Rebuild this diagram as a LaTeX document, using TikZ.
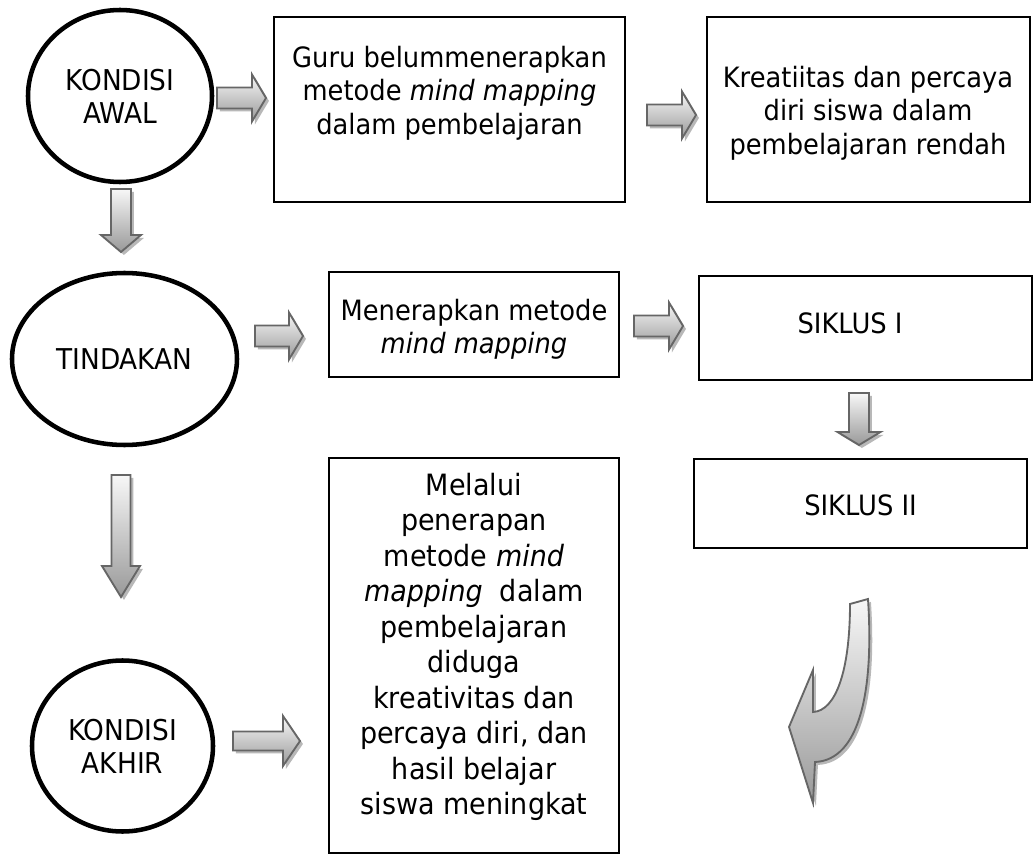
\documentclass[tikz,border=0pt]{standalone}
\usepackage{fontspec}
\setmainfont{DejaVu Sans}[FakeStretch=0.92]
\usetikzlibrary{shapes.geometric,shadows}
\newcommand{\px}{0.75pt}
% block arrows: \rarr{x0}{x1}{y}{shaft}{head}{headlen}, \darr{x}{y0}{y1}{shaft}{head}{headlen}
\newcommand{\rarr}[6]{\path[blockarrow] (#1,#3-#4) -- (#2-#6,#3-#4) -- (#2-#6,#3-#5) -- (#2,#3)
  -- (#2-#6,#3+#5) -- (#2-#6,#3+#4) -- (#1,#3+#4) -- cycle;}
\newcommand{\darr}[6]{\path[blockarrow] (#1-#4,#2) -- (#1-#4,#3-#6) -- (#1-#5,#3-#6) -- (#1,#3)
  -- (#1+#5,#3-#6) -- (#1+#4,#3-#6) -- (#1+#4,#2) -- cycle;}
\tikzset{
  oval/.style={ellipse, draw=black, line width=3.4pt, align=center, inner sep=0pt,
    font=\fontsize{21.5pt}{24.75pt}\selectfont},
  box/.style={rectangle, draw=black, line width=1.3pt, inner sep=0pt},
  txt/.style={align=center, inner sep=0pt, font=\fontsize{21pt}{25.1pt}\selectfont},
  blockarrow/.style={draw=black!60, line width=1.4pt, line join=miter,
    top color=white!97!black, bottom color=black!40,
    drop shadow={shadow xshift=2.2pt, shadow yshift=-2.2pt, fill=black!28, opacity=1}},
}
\begin{document}
\begin{tikzpicture}[x=\px, y=-\px]
  \useasboundingbox (0,0) rectangle (1035,855);
  \fill[white] (0,0) rectangle (1035,855);
  % left column
  \node[oval, minimum width=184*\px, minimum height=172*\px] (awal) at (120,96) {KONDISI\\AWAL};
  \node[oval, minimum width=225*\px, minimum height=172*\px] (tindakan) at (124.5,359) {TINDAKAN};
  \node[oval, minimum width=181*\px, minimum height=171*\px] (akhir) at (122.5,746) {KONDISI\\AKHIR};
  % boxes
  \node[box, minimum width=351*\px, minimum height=185*\px] (guru) at (449.5,109.5) {};
  \node[box, minimum width=323*\px, minimum height=185*\px] (kreatif) at (868.5,109.5) {};
  \node[box, minimum width=290*\px, minimum height=105*\px] (terap) at (474,324.5) {};
  \node[box, minimum width=333*\px, minimum height=104*\px] (siklusa) at (865.5,328) {};
  \node[box, minimum width=333*\px, minimum height=89*\px] (siklusb) at (860.5,503.5) {};
  \node[box, minimum width=290*\px, minimum height=395*\px] (hasil) at (474,655.5) {};
  \node[txt] (gurutxt) at (449.5,93) {Guru belummenerapkan\\metode \textit{mind mapping}\\dalam pembelajaran};
  \node[txt] (kreatiftxt) at (868,113) {Kreatiitas dan percaya\\diri siswa dalam\\pembelajaran rendah};
  \node[txt] (teraptxt) at (474,329.5) {Menerapkan metode\\\textit{mind mapping}};
  \node[txt] (siklusatxt) at (850,323) {SIKLUS I};
  \node[txt] (siklusbtxt) at (860.5,505) {SIKLUS II};
  \node[txt, font=\fontsize{22pt}{26.6pt}\selectfont] (hasiltxt) at (474,647)
    {Melalui\\penerapan\\metode \textit{mind}\\\textit{mapping}~ dalam\\pembelajaran\\diduga\\kreativitas dan\\percaya diri, dan\\hasil belajar\\siswa meningkat};
  % arrows
  \rarr{217}{266}{98}{10.5}{23.5}{14}
  \rarr{647}{696}{115}{10.5}{23.5}{14}
  \rarr{255}{303}{336}{10.5}{23.5}{14}
  \rarr{634}{683}{326}{10.5}{23.5}{14}
  \rarr{233}{300}{741}{9.5}{25}{17}
  \darr{121}{189}{252}{10}{20}{17}
  \darr{859}{393}{445}{10}{21.5}{13}
  \darr{121}{475}{597}{9.5}{19}{31}
  \path[blockarrow] (850,604) -- (868,599) .. controls (874,690) and (860,760) .. (815,762)
    -- (813,803) -- (789,727) -- (813,670) -- (813,712)
    .. controls (836,711) and (850,670) .. (850,604) -- cycle;
\end{tikzpicture}
\end{document}
